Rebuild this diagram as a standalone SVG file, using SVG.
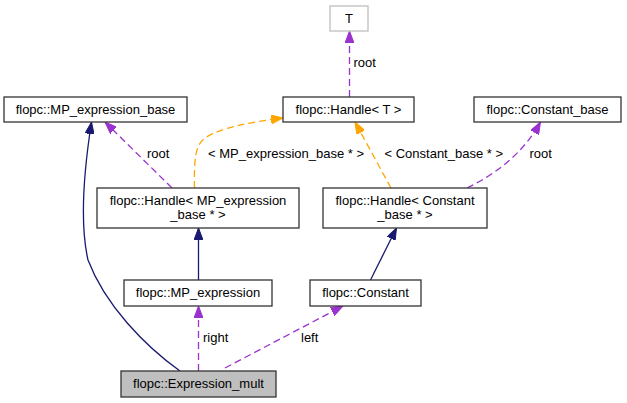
<svg xmlns="http://www.w3.org/2000/svg" width="627" height="403" viewBox="0 0 627 403">
<style>
  .node rect { fill: #ffffff; stroke: #333333; stroke-width: 1.3; }
  .node text, .lbl { font-family: "Liberation Sans", Arial, sans-serif; font-size: 13px; fill: #000000; }
  .node text { text-anchor: middle; }
  .inh { fill: none; stroke: #191970; stroke-width: 1.3; marker-end: url(#aNavy); }
  .use { fill: none; stroke: #9a32cd; stroke-width: 1.3; stroke-dasharray: 7,4; marker-end: url(#aPurple); }
  .tpl { fill: none; stroke: #ffa500; stroke-width: 1.3; stroke-dasharray: 7,4; marker-end: url(#aOrange); }
</style>
<defs>
  <marker id="aNavy" markerUnits="userSpaceOnUse" markerWidth="12" markerHeight="9" refX="12" refY="4.5" orient="auto">
    <path d="M0,0 L12,4.5 L0,9 z" fill="#191970" stroke="#191970" stroke-width="1"/>
  </marker>
  <marker id="aPurple" markerUnits="userSpaceOnUse" markerWidth="12" markerHeight="9" refX="12" refY="4.5" orient="auto">
    <path d="M0,0 L12,4.5 L0,9 z" fill="#9a32cd" stroke="#9a32cd" stroke-width="1"/>
  </marker>
  <marker id="aOrange" markerUnits="userSpaceOnUse" markerWidth="12" markerHeight="9" refX="12" refY="4.5" orient="auto">
    <path d="M0,0 L12,4.5 L0,9 z" fill="#ffa500" stroke="#ffa500" stroke-width="1"/>
  </marker>
</defs>
<rect x="0" y="0" width="627" height="403" fill="#ffffff"/>

<g id="connectors">
  <path class="inh" d="M180,371 C145,346 105,305 88,260 C80,225 84,170 91.5,122"/>
  <path class="inh" d="M198.5,280 L198.5,228"/>
  <path class="inh" d="M370.5,280 L396.5,228"/>
  <path class="use" d="M198.5,371 L198.5,306"/>
  <text class="lbl" x="203" y="342">right</text>
  <path class="use" d="M225,368 L343,306"/>
  <text class="lbl" x="301" y="342">left</text>
  <path class="use" d="M172,188 L105,122"/>
  <text class="lbl" x="147" y="158">root</text>
  <path class="tpl" d="M194.5,188 C194,160 195,145 205,138 C220,128 250,122 283,118"/>
  <text class="lbl" x="208" y="158">&lt; MP_expression_base * &gt;</text>
  <path class="tpl" d="M391,188 L355,122"/>
  <text class="lbl" x="384.5" y="158">&lt; Constant_base * &gt;</text>
  <path class="use" d="M467,188 C500,172 525,150 540.5,122"/>
  <text class="lbl" x="529.5" y="158">root</text>
  <path class="use" d="M349.5,97 L349.5,31"/>
  <text class="lbl" x="353.5" y="67">root</text>
</g>

<g id="node-T" class="node">
  <rect x="330" y="6" width="38" height="25" style="stroke:#bfbfbf"/>
  <text x="349" y="23">T</text>
</g>
<g id="node-MP_expression_base" class="node">
  <rect x="4" y="97" width="183" height="25"/>
  <text x="95.5" y="114">flopc::MP_expression_base</text>
</g>
<g id="node-Handle_T" class="node">
  <rect x="283" y="97" width="131" height="25"/>
  <text x="348.5" y="114">flopc::Handle&lt; T &gt;</text>
</g>
<g id="node-Constant_base" class="node">
  <rect x="474" y="97" width="147" height="25"/>
  <text x="547.5" y="114">flopc::Constant_base</text>
</g>
<g id="node-Handle_MP_expression_base" class="node">
  <rect x="97" y="188" width="202" height="40"/>
  <text x="198" y="205">flopc::Handle&lt; MP_expression</text>
  <text x="198" y="219">_base * &gt;</text>
</g>
<g id="node-Handle_Constant_base" class="node">
  <rect x="323" y="188" width="164" height="40"/>
  <text x="405" y="205">flopc::Handle&lt; Constant</text>
  <text x="405" y="219">_base * &gt;</text>
</g>
<g id="node-MP_expression" class="node">
  <rect x="124" y="280" width="148" height="26"/>
  <text x="198" y="297">flopc::MP_expression</text>
</g>
<g id="node-Constant" class="node">
  <rect x="310" y="280" width="111" height="26"/>
  <text x="365.5" y="297">flopc::Constant</text>
</g>
<g id="node-Expression_mult" class="node">
  <rect x="121" y="371" width="155" height="26" style="fill:#bfbfbf"/>
  <text x="198.5" y="388">flopc::Expression_mult</text>
</g>
</svg>
